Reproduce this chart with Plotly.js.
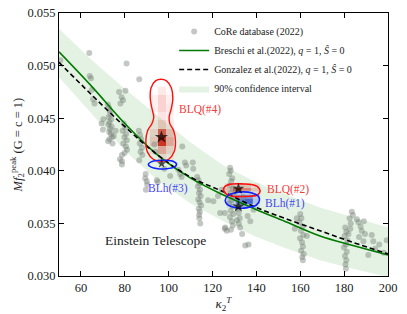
<!DOCTYPE html>
<html>
<head>
<meta charset="utf-8">
<script src="https://cdn.plot.ly/plotly-3.0.1.min.js"></script>
<style>html,body{margin:0;padding:0;background:#fff;}#chart{width:407px;height:314px;}</style>
</head>
<body>
<div id="chart"></div>
<script>
// ---- CoRe database points (kappa_2^T, M f2_peak)
const coreX = [50.6,
 63.8,64.0,64.6,65.0,65.5,66.2,
 69.4,70.2,70.0,
 72.3,72.8,73.1,73.4,72.6,73.8,73.0,72.5,74.0,73.3,72.9,73.6,74.2,73.0,72.4,74.4,75.0,75.8,
 77.4,80.3,78.5,79.2,78.0,80.8,79.5,80.2,79.0,80.6,79.8,80.9,79.3,80.5,81.0,79.9,78.7,77.8,78.7,78.7,
 86.6,86.4,87.0,87.5,86.8,87.8,87.2,88.0,86.6,89.5,89.3,90.0,90.2,89.6,
 94.6,95.0,100.7,98.0,94.0,93.5,
 106.2,107.4,111.0,111.2,104.4,105.2,105.9,108.0,
 113.0,113.6,114.0,113.3,114.3,113.8,114.6,113.5,114.1,114.8,113.7,114.2,113.9,114.0,114.4,118.0,120.4,
 125.6,125.6,125.8,124.2,123.5,122.5,126.5,
 128.0,128.3,127.6,129.0,128.5,127.8,129.3,128.1,129.6,128.6,127.5,129.1,128.3,129.5,127.9,128.8,129.2,128.4,
 131.9,132.4,132.0,132.6,131.5,134.9,133.5,138.7,136.0,137.2,134.0,136.4,131.1,
 160.0,160.5,159.6,161.0,160.3,161.4,159.9,160.8,161.2,160.4,161.6,160.9,161.2,158.4,163.0,157.5,
 180.5,181.0,180.2,181.5,180.8,179.9,181.2,180.4,181.0,180.6,180.8,182.5,183.0,182.8,183.5,184.0,182.0,
 185.8,186.5,187.5,188.0,189.0,189.5,186.8,188.8,
 192.6,193.3,194.1,199.4,196.0,191.0,198.0];
const coreY = [0.0505,
 0.0512,0.0490,0.0488,0.0477,0.0468,0.0464,
 0.0445,0.0449,0.0439,
 0.0463,0.0460,0.0457,0.0454,0.0451,0.0449,0.0446,0.0444,0.0442,0.0440,0.0437,0.0435,0.0432,0.0430,0.0428,0.0426,0.0433,0.0438,
 0.0475,0.0476,0.0470,0.0467,0.0464,0.0502,0.0445,0.0441,0.0438,0.0435,0.0432,0.0429,0.0426,0.0423,0.0420,0.0417,0.0415,0.0411,0.0409,0.0406,
 0.0487,0.0438,0.0434,0.0430,0.0426,0.0422,0.0418,0.0415,0.0410,0.0397,0.0393,0.0390,0.0387,0.0382,
 0.0391,0.0389,0.0395,0.0402,0.0418,0.0425,
 0.0423,0.0408,0.0408,0.0402,0.0401,0.0397,0.0394,0.0405,
 0.0394,0.0391,0.0388,0.0385,0.0382,0.0379,0.0376,0.0373,0.0370,0.0367,0.0364,0.0361,0.0358,0.0355,0.0350,0.0372,0.0371,
 0.0360,0.0345,0.0346,0.0382,0.0360,0.0376,0.0343,
 0.0403,0.0400,0.0397,0.0393,0.0390,0.0386,0.0383,0.0379,0.0376,0.0372,0.0369,0.0366,0.0362,0.0359,0.0356,0.0352,0.0348,0.0344,
 0.0360,0.0355,0.0350,0.0346,0.0364,0.0329,0.0340,0.0363,0.0357,0.0352,0.0375,0.0330,0.0353,
 0.0359,0.0355,0.0351,0.0347,0.0343,0.0339,0.0336,0.0332,0.0328,0.0324,0.0321,0.0318,0.0315,0.0355,0.0338,0.0345,
 0.0346,0.0342,0.0338,0.0334,0.0330,0.0327,0.0323,0.0319,0.0315,0.0311,0.0307,0.0355,0.0350,0.0345,0.0361,0.0358,0.0340,
 0.0354,0.0351,0.0347,0.0343,0.0352,0.0340,0.0337,0.0333,
 0.0339,0.0333,0.0326,0.0334,0.0330,0.0320,0.0322];

// ---- fit curves
const fitX      = [50, 65, 80, 95, 110, 125, 139, 154, 169, 184, 200];
const breschiY  = [0.0513, 0.0480, 0.0445, 0.0415, 0.0393, 0.0377, 0.0364, 0.0351, 0.0338, 0.0329, 0.0320];
const gonzalezY = [0.0503, 0.0472, 0.0442, 0.0415, 0.0394, 0.0380, 0.0366, 0.0354, 0.0343, 0.0332, 0.0321];
const bandUpper = [0.0535, 0.0505, 0.0478, 0.0452, 0.0427, 0.0405, 0.0390, 0.0377, 0.0365, 0.0356, 0.0346];
const bandLower = [0.0489, 0.0454, 0.0419, 0.0391, 0.0369, 0.0352, 0.0338, 0.0326, 0.0315, 0.0307, 0.0299];

// ---- posterior regions
const blq4X = [96.5,100,102.5,103.1,102.3,100.5,100.2,101.3,101.9,101.2,99,96.5,94,92.0,91.6,92.3,93.2,92.4,90.4,89.6,90.3,93,96.5];
const blq4Y = [0.0409,0.0411,0.0418,0.0428,0.0438,0.0445,0.0451,0.0460,0.0469,0.0479,0.04855,0.0487,0.04855,0.0479,0.0469,0.0460,0.0451,0.0445,0.0438,0.0428,0.0418,0.0411,0.0409];
const blh3X = [90.7,92,95,99,102,103.6,102.5,99,95,92,90.7];
const blh3Y = [0.0406,0.04085,0.04098,0.04098,0.0409,0.0406,0.04035,0.0402,0.0402,0.04035,0.0406];
const blq2X = [125.0,125.8,128,131,134,137.5,140.5,141.7,140.5,137,133,129,126.2,125.0];
const blq2Y = [0.0382,0.03855,0.03872,0.03877,0.03875,0.0387,0.0385,0.0381,0.0377,0.03758,0.03755,0.03758,0.0378,0.0382];
const blh1X = [125.8,127,130,134,138,140.8,141.4,140,136,132,128.5,126.3,125.8];
const blh1Y = [0.0372,0.03765,0.0379,0.0380,0.0379,0.0376,0.0372,0.03675,0.0365,0.03645,0.0366,0.0369,0.0372];

const hm4X = [93.2, 96.8, 100.4];
const hm4Y = [0.0412,0.0420,0.0428,0.0436,0.0444,0.0452,0.0460,0.0468,0.0476];
const hm4Z = [[0.02,0.12,0.05],[0.08,0.35,0.15],[0.2,0.9,0.35],[0.15,0.7,0.25],[0.05,0.2,0.08],[0.03,0.1,0.05],[0.05,0.18,0.08],[0.05,0.18,0.06],[0.02,0.08,0.03]];
const hm2X = [127.5, 131.5, 135.5, 139.5];
const hm2Y = [0.0378, 0.0382, 0.0386];
const hm2Z = [[0.1,0.45,0.35,0.1],[0.2,0.8,0.55,0.2],[0.05,0.2,0.2,0.05]];
const hm1X = [128.5, 132.5, 136.5, 140];
const hm1Y = [0.0367, 0.0371, 0.0375, 0.0379];
const hm1Z = [[0.05,0.35,0.25,0.05],[0.15,0.6,0.8,0.2],[0.15,0.45,0.5,0.15],[0.02,0.12,0.12,0.02]];

const starX = [96.7, 96.8, 131.8, 131.8];
const starY = [0.0432, 0.04067, 0.03829, 0.0366];
const starSize = [10, 7, 9, 9];

const labelText = ['BLQ(#4)', 'BLh(#3)', 'BLQ(#2)', 'BLh(#1)'];
const labelX = [114.5, 99.8, 154.4, 153];
const labelY = [0.04584, 0.03831, 0.03822, 0.03689];
const labelColor = ['#f03c3c', '#4848f0', '#f03c3c', '#4848f0'];

const FONT = 'Liberation Serif, DejaVu Serif, serif';

const traces = [
  {x: fitX, y: bandLower, mode: 'lines', line: {width: 0}, showlegend: false, hoverinfo: 'skip'},
  {x: fitX, y: bandUpper, mode: 'lines', line: {width: 0}, fill: 'tonexty', fillcolor: 'rgba(0,140,0,0.11)',
   name: '90% confidence interval', legendrank: 4},
  {x: coreX, y: coreY, mode: 'markers', marker: {size: 6, color: 'rgba(115,125,115,0.42)', line: {width: 0}},
   name: 'CoRe database (2022)', legendrank: 1},
  {x: fitX, y: breschiY, mode: 'lines', line: {color: '#007a00', width: 1.6, shape: 'spline'},
   name: 'Breschi et al.(2022), <i>q</i> = 1, <i>Ŝ</i> = 0', legendrank: 2},
  {x: fitX, y: gonzalezY, mode: 'lines', line: {color: 'black', width: 1.6, dash: '5px,3px', shape: 'spline'},
   name: 'Gonzalez et al.(2022), <i>q</i> = 1, <i>Ŝ</i> = 0', legendrank: 3},
  {type: 'heatmap', x: hm4X, y: hm4Y, z: hm4Z, zmin: 0, zmax: 1, showscale: false, hoverinfo: 'skip',
   colorscale: [[0, 'rgba(255,255,255,0)'], [0.05, 'rgba(255,240,240,1)'], [1, 'rgba(225,20,20,1)']]},
  {type: 'heatmap', x: hm2X, y: hm2Y, z: hm2Z, zmin: 0, zmax: 1, showscale: false, hoverinfo: 'skip',
   colorscale: [[0, 'rgba(255,255,255,0)'], [0.05, 'rgba(255,230,230,1)'], [1, 'rgba(230,40,40,1)']]},
  {type: 'heatmap', x: hm1X, y: hm1Y, z: hm1Z, zmin: 0, zmax: 1, showscale: false, hoverinfo: 'skip',
   colorscale: [[0, 'rgba(255,255,255,0)'], [0.05, 'rgba(230,232,255,1)'], [1, 'rgba(40,60,230,1)']]},
  {x: blq4X, y: blq4Y, mode: 'lines', line: {color: '#ff1010', width: 1.4, shape: 'spline'}, showlegend: false},
  {x: blh3X, y: blh3Y, mode: 'lines', line: {color: '#1020ff', width: 1.6, shape: 'spline'}, showlegend: false},
  {x: blq2X, y: blq2Y, mode: 'lines', line: {color: '#ff1010', width: 1.6, shape: 'spline'}, showlegend: false},
  {x: blh1X, y: blh1Y, mode: 'lines', line: {color: '#1020ff', width: 1.6, shape: 'spline'}, showlegend: false},
  {x: starX, y: starY, mode: 'markers', marker: {symbol: 'star', size: starSize, color: 'black', line: {width: 0}}, showlegend: false}
];

const annotations = labelText.map((t, i) => ({
  x: labelX[i], y: labelY[i], xref: 'x', yref: 'y', text: t, showarrow: false,
  font: {family: FONT, size: 11.5, color: labelColor[i]}
}));
annotations.push({x: 94, y: 0.0334, xref: 'x', yref: 'y', text: 'Einstein Telescope', showarrow: false,
  font: {family: FONT, size: 13.5, color: '#222'}});
annotations.push({x: -0.128, y: 0.5, xref: 'paper', yref: 'paper', xanchor: 'center', yanchor: 'middle',
  textangle: -90, showarrow: false,
  text: '<i>Mf</i><sub>2</sub><sup>peak</sup> (G = c = 1)', font: {family: FONT, size: 12.5, color: '#222'}});

const axisCommon = {showline: true, linecolor: 'black', linewidth: 1, mirror: 'ticks', ticks: 'inside',
  ticklen: 5, tickcolor: 'black', showgrid: false, zeroline: false,
  tickfont: {family: FONT, size: 12.5, color: '#222'}};

const layout = {
  width: 407, height: 314,
  margin: {l: 59, r: 19, t: 13, b: 38},
  paper_bgcolor: 'white', plot_bgcolor: 'white',
  showlegend: true,
  legend: {x: 0.35, y: 0.985, xanchor: 'left', yanchor: 'top', bgcolor: 'rgba(0,0,0,0)', traceorder: 'normal',
    font: {family: FONT, size: 10, color: '#222'}, tracegroupgap: 0},
  xaxis: Object.assign({}, axisCommon, {range: [50, 200], dtick: 20, tick0: 0,
    title: {text: '<i>κ</i><sub>2</sub><sup><i>T</i></sup>', font: {family: FONT, size: 13, color: '#222'}, standoff: 4}}),
  yaxis: Object.assign({}, axisCommon, {range: [0.030, 0.055], dtick: 0.005, tick0: 0.03, tickformat: '.3f'}),
  annotations: annotations
};

Plotly.newPlot('chart', traces, layout, {displayModeBar: false, staticPlot: true});
</script>
</body>
</html>
